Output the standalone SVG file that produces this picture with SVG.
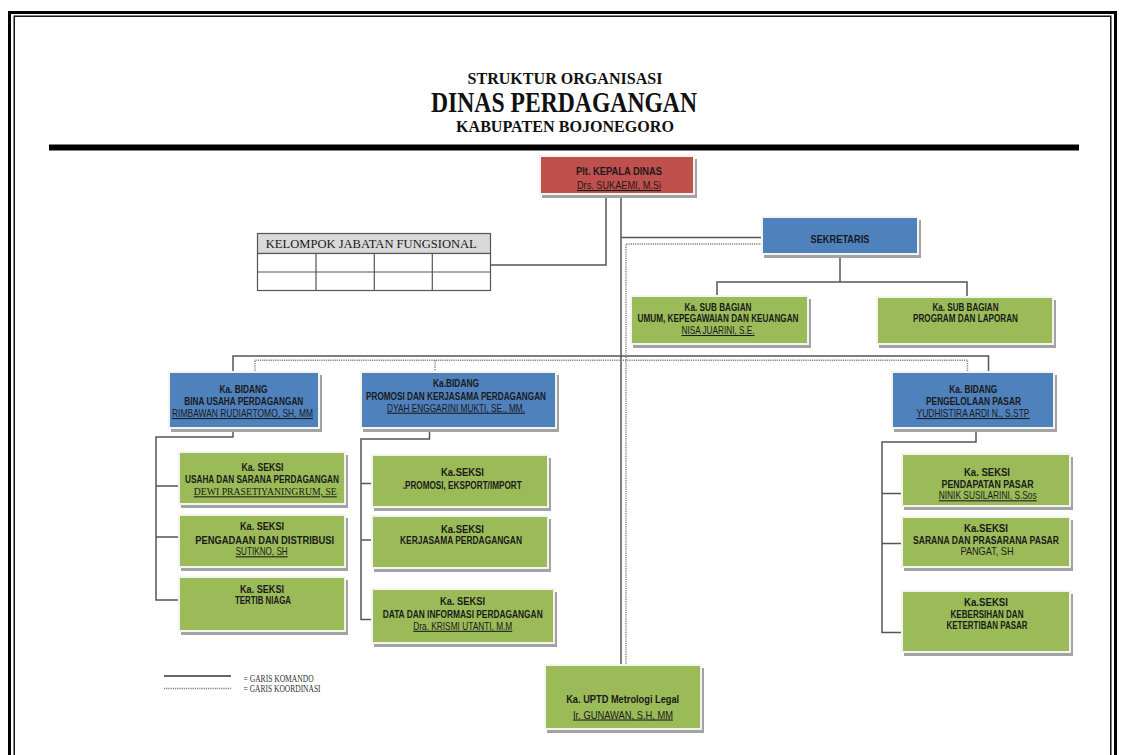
<svg xmlns="http://www.w3.org/2000/svg" width="1124" height="755" viewBox="0 0 1124 755">
<defs>
<style>
.sh{fill:#A3A3A3}
.fr{fill:#F3F3EF}
.red{fill:#C0504D}
.blue{fill:#4F81BD}
.green{fill:#9BBB59}
text{font-family:"Liberation Sans Narrow","Liberation Sans",Arial,sans-serif;text-anchor:middle;fill:#1a1a1a}
.h{font-weight:bold;font-size:11.5px}
.s{font-weight:bold;font-size:10px}
.n{font-size:10.5px;text-decoration:underline}
.ser{font-family:"Liberation Serif","Times New Roman",serif}
.cmd{fill:none;stroke:#555;stroke-width:1.5}
.crd{fill:none;stroke:#808080;stroke-width:1.4;stroke-dasharray:1.2 1}
.title{font-family:"Liberation Serif","Times New Roman",serif;font-weight:bold;fill:#111}
.lg{font-family:"Liberation Serif","Times New Roman",serif;font-size:9.5px;text-anchor:start;fill:#333}
</style>
</defs>
<rect x="0" y="0" width="1124" height="755" fill="#fff"/>
<!-- frame -->
<rect x="9.5" y="12.5" width="1106" height="800" fill="none" stroke="#000" stroke-width="3"/>
<rect x="14.2" y="16.2" width="1096.6" height="800" fill="none" stroke="#000" stroke-width="1.4"/>
<!-- titles -->
<text class="title" x="565" y="83.5" font-size="17" textLength="195" lengthAdjust="spacingAndGlyphs">STRUKTUR ORGANISASI</text>
<text class="title" x="564" y="112" font-size="29" textLength="266" lengthAdjust="spacingAndGlyphs">DINAS PERDAGANGAN</text>
<text class="title" x="565" y="131.5" font-size="16" textLength="218" lengthAdjust="spacingAndGlyphs">KABUPATEN BOJONEGORO</text>
<rect x="49" y="144.5" width="1030" height="6" fill="#000"/>

<g id="connectors">
<path class="cmd" d="M606,193 V265 H491"/>
<path class="cmd" d="M621,193 V666"/>
<path class="cmd" d="M621,237.5 H764"/>
<path class="cmd" d="M840,253 V282 M717,297 V282 H967 V298"/>
<path class="cmd" d="M233,373 V356 H988.5 V373"/>
<path class="cmd" d="M233,427 V437 H156 V600 H180 M156,486 H180 M156,537 H180"/>
<path class="cmd" d="M429.5,427 V439 H361 V619.5 H373 M361,483.5 H373 M361,540 H373"/>
<path class="cmd" d="M976,427 V442 H882 V632.5 H903 M882,493.5 H903 M882,543.5 H903"/>
<path class="crd" d="M764,244 H626 V666"/>
<path class="crd" d="M255,373 V360.2 H967.5 V373 M435,360.2 V373"/>
</g>

<g id="kepala">
<rect class="sh" x="542" y="159" width="155" height="39"/>
<rect class="fr" x="539" y="155" width="156" height="40"/>
<rect class="red" x="541" y="157" width="152" height="36"/>
<text class="h" x="619" y="175" font-size="12.5" textLength="86" lengthAdjust="spacingAndGlyphs">Plt. KEPALA DINAS</text>
<text class="n" x="619" y="189" font-size="12.5" textLength="84" lengthAdjust="spacingAndGlyphs">Drs. SUKAEMI, M.Si</text>
</g>

<g id="kelompok-jabatan-fungsional">
<rect x="257.5" y="233.5" width="233" height="20" fill="#D9D9D9" stroke="#555" stroke-width="1.2"/>
<rect x="257.5" y="253.5" width="233" height="37" fill="#fff" stroke="#555" stroke-width="1.2"/>
<path d="M257.5,272 H490.5 M316,253.5 V290.5 M374.3,253.5 V290.5 M432.3,253.5 V290.5" stroke="#555" stroke-width="1.2" fill="none"/>
<text class="ser" x="371.3" y="247.5" font-size="13.5" textLength="211" lengthAdjust="spacingAndGlyphs">KELOMPOK JABATAN FUNGSIONAL</text>
</g>

<g id="sekretaris">
<rect class="sh" x="764" y="220" width="157" height="38"/>
<rect class="fr" x="761" y="216" width="158" height="39"/>
<rect class="blue" x="763" y="218" width="154" height="35"/>
<text class="h" x="840" y="243" font-size="12" textLength="59" lengthAdjust="spacingAndGlyphs" fill="#1F2D48">SEKRETARIS</text>
</g>

<g id="subbag-umum">
<rect class="sh" x="633" y="299" width="178" height="49"/>
<rect class="fr" x="630" y="295" width="179" height="50"/>
<rect class="green" x="632" y="297" width="175" height="46"/>
<text class="h" x="718" y="310.7" font-size="11" textLength="67" lengthAdjust="spacingAndGlyphs">Ka. SUB BAGIAN</text>
<text class="s" x="718" y="322.3" textLength="161" lengthAdjust="spacingAndGlyphs">UMUM, KEPEGAWAIAN DAN KEUANGAN</text>
<text class="n" x="718" y="334" textLength="73" lengthAdjust="spacingAndGlyphs">NISA JUARINI, S.E.</text>
</g>

<g id="subbag-program">
<rect class="sh" x="879" y="300" width="177" height="48"/>
<rect class="fr" x="876" y="296" width="178" height="49"/>
<rect class="green" x="878" y="298" width="174" height="45"/>
<text class="h" x="965.5" y="310.7" font-size="11" textLength="66" lengthAdjust="spacingAndGlyphs">Ka. SUB BAGIAN</text>
<text class="s" x="965.5" y="322.3" textLength="105" lengthAdjust="spacingAndGlyphs">PROGRAM DAN LAPORAN</text>
</g>

<g id="bidang-bina-usaha">
<rect class="sh" x="171" y="375" width="151" height="57"/>
<rect class="fr" x="168" y="371" width="152" height="58"/>
<rect class="blue" x="170" y="373" width="148" height="54"/>
<text class="h" x="243.5" y="393" textLength="48" lengthAdjust="spacingAndGlyphs">Ka. BIDANG</text>
<text class="s" x="243.8" y="405.3" font-size="10.5" textLength="119" lengthAdjust="spacingAndGlyphs">BINA USAHA PERDAGANGAN</text>
<text class="n" x="242.5" y="417" textLength="141" lengthAdjust="spacingAndGlyphs">RIMBAWAN RUDIARTOMO, SH, MM</text>
</g>

<g id="bidang-promosi">
<rect class="sh" x="363" y="375" width="196" height="57"/>
<rect class="fr" x="360" y="371" width="197" height="58"/>
<rect class="blue" x="362" y="373" width="193" height="54"/>
<text class="h" x="456" y="387" textLength="46" lengthAdjust="spacingAndGlyphs">Ka.BIDANG</text>
<text class="s" x="456" y="399.5" font-size="10.5" textLength="180" lengthAdjust="spacingAndGlyphs">PROMOSI DAN KERJASAMA PERDAGANGAN</text>
<text class="n" x="456" y="411.7" textLength="138" lengthAdjust="spacingAndGlyphs">DYAH ENGGARINI MUKTI, SE., MM.</text>
</g>

<g id="bidang-pasar">
<rect class="sh" x="894" y="375" width="163" height="57"/>
<rect class="fr" x="891" y="371" width="164" height="58"/>
<rect class="blue" x="893" y="373" width="160" height="54"/>
<text class="h" x="973.3" y="393" textLength="48" lengthAdjust="spacingAndGlyphs">Ka. BIDANG</text>
<text class="s" x="973.5" y="405.3" font-size="10.5" textLength="95" lengthAdjust="spacingAndGlyphs">PENGELOLAAN PASAR</text>
<text class="n" x="973" y="417" textLength="113" lengthAdjust="spacingAndGlyphs">YUDHISTIRA ARDI N., S.STP</text>
</g>

<g id="seksi-usaha">
<rect class="sh" x="181" y="455" width="167" height="53"/>
<rect class="fr" x="178" y="451" width="168" height="54"/>
<rect class="green" x="180" y="453" width="164" height="50"/>
<text class="h" x="262.5" y="471" textLength="42" lengthAdjust="spacingAndGlyphs">Ka. SEKSI</text>
<text class="s" x="262" y="482.6" textLength="154" lengthAdjust="spacingAndGlyphs">USAHA DAN SARANA PERDAGANGAN</text>
<text class="n ser" x="265.3" y="495.3" font-size="11" textLength="143" lengthAdjust="spacingAndGlyphs">DEWI PRASETIYANINGRUM, SE</text>
</g>

<g id="seksi-pengadaan">
<rect class="sh" x="181" y="518" width="167" height="53"/>
<rect class="fr" x="178" y="514" width="168" height="54"/>
<rect class="green" x="180" y="516" width="164" height="50"/>
<text class="h" x="262" y="530.3" textLength="44" lengthAdjust="spacingAndGlyphs">Ka. SEKSI</text>
<text class="s" x="264.7" y="543.6" textLength="139" lengthAdjust="spacingAndGlyphs">PENGADAAN DAN DISTRIBUSI</text>
<text class="n" x="261.7" y="555.3" textLength="52" lengthAdjust="spacingAndGlyphs">SUTIKNO, SH</text>
</g>

<g id="seksi-tertib">
<rect class="sh" x="181" y="580" width="167" height="55"/>
<rect class="fr" x="178" y="576" width="168" height="56"/>
<rect class="green" x="180" y="578" width="164" height="52"/>
<text class="h" x="262" y="592.6" textLength="44" lengthAdjust="spacingAndGlyphs">Ka. SEKSI</text>
<text class="s" x="263" y="604.3" textLength="56" lengthAdjust="spacingAndGlyphs">TERTIB NIAGA</text>
</g>

<g id="seksi-promosi">
<rect class="sh" x="374" y="458" width="177" height="53"/>
<rect class="fr" x="371" y="454" width="178" height="54"/>
<rect class="green" x="373" y="456" width="174" height="50"/>
<text class="h" x="462.5" y="476" textLength="43" lengthAdjust="spacingAndGlyphs">Ka.SEKSI</text>
<text class="s" x="462.2" y="488.6" textLength="119" lengthAdjust="spacingAndGlyphs">.PROMOSI, EKSPORT/IMPORT</text>
</g>

<g id="seksi-kerjasama">
<rect class="sh" x="374" y="519" width="177" height="53"/>
<rect class="fr" x="371" y="515" width="178" height="54"/>
<rect class="green" x="373" y="517" width="174" height="50"/>
<text class="h" x="462.5" y="532.6" textLength="43" lengthAdjust="spacingAndGlyphs">Ka.SEKSI</text>
<text class="s" x="461" y="544.3" textLength="122" lengthAdjust="spacingAndGlyphs">KERJASAMA PERDAGANGAN</text>
</g>

<g id="seksi-data">
<rect class="sh" x="374" y="592" width="183" height="55"/>
<rect class="fr" x="371" y="588" width="184" height="56"/>
<rect class="green" x="373" y="590" width="180" height="52"/>
<text class="h" x="462.5" y="605.3" textLength="45" lengthAdjust="spacingAndGlyphs">Ka. SEKSI</text>
<text class="s" x="462.7" y="617.6" textLength="160" lengthAdjust="spacingAndGlyphs">DATA DAN INFORMASI PERDAGANGAN</text>
<text class="n" x="462.8" y="629.8" textLength="99" lengthAdjust="spacingAndGlyphs">Dra. KRISMI UTANTI, M.M</text>
</g>

<g id="seksi-pendapatan">
<rect class="sh" x="904" y="457" width="169" height="53"/>
<rect class="fr" x="901" y="453" width="170" height="54"/>
<rect class="green" x="903" y="455" width="166" height="50"/>
<text class="h" x="987" y="476" textLength="46" lengthAdjust="spacingAndGlyphs">Ka. SEKSI</text>
<text class="s" x="987.5" y="487.6" textLength="92" lengthAdjust="spacingAndGlyphs">PENDAPATAN PASAR</text>
<text class="n" x="987.7" y="499.3" textLength="98" lengthAdjust="spacingAndGlyphs">NINIK SUSILARINI, S.Sos</text>
</g>

<g id="seksi-sarana">
<rect class="sh" x="904" y="520" width="169" height="51"/>
<rect class="fr" x="901" y="516" width="170" height="52"/>
<rect class="green" x="903" y="518" width="166" height="48"/>
<text class="h" x="986" y="532" textLength="44" lengthAdjust="spacingAndGlyphs">Ka.SEKSI</text>
<text class="s" x="986" y="543.6" textLength="146" lengthAdjust="spacingAndGlyphs">SARANA DAN PRASARANA PASAR</text>
<text x="987" y="555" font-size="11.5" textLength="53" lengthAdjust="spacingAndGlyphs">PANGAT, SH</text>
</g>

<g id="seksi-kebersihan">
<rect class="sh" x="904" y="594" width="169" height="62"/>
<rect class="fr" x="901" y="590" width="170" height="63"/>
<rect class="green" x="903" y="592" width="166" height="59"/>
<text class="h" x="986" y="606.3" textLength="44" lengthAdjust="spacingAndGlyphs">Ka.SEKSI</text>
<text class="s" x="987" y="617.6" textLength="73" lengthAdjust="spacingAndGlyphs">KEBERSIHAN DAN</text>
<text class="s" x="987" y="629.3" textLength="81" lengthAdjust="spacingAndGlyphs">KETERTIBAN PASAR</text>
</g>

<g id="uptd-metrologi">
<rect class="sh" x="547" y="668" width="157" height="65"/>
<rect class="fr" x="544" y="664" width="158" height="66"/>
<rect class="green" x="546" y="666" width="154" height="62"/>
<text class="h" x="622.7" y="702.5" font-size="13.5" textLength="113" lengthAdjust="spacingAndGlyphs">Ka. UPTD Metrologi Legal</text>
<text class="n" x="623" y="718.5" font-size="13.5" textLength="100" lengthAdjust="spacingAndGlyphs">Ir. GUNAWAN, S.H, MM</text>
</g>

<g id="legend">
<path d="M164,676 H231" stroke="#666" stroke-width="2.2" fill="none"/>
<path class="crd" d="M164,688.5 H231" stroke-width="1.2"/>
<text class="lg" x="243.6" y="682" textLength="70" lengthAdjust="spacingAndGlyphs">= GARIS KOMANDO</text>
<text class="lg" x="243.6" y="691.5" textLength="77" lengthAdjust="spacingAndGlyphs">= GARIS KOORDINASI</text>
</g>
</svg>
